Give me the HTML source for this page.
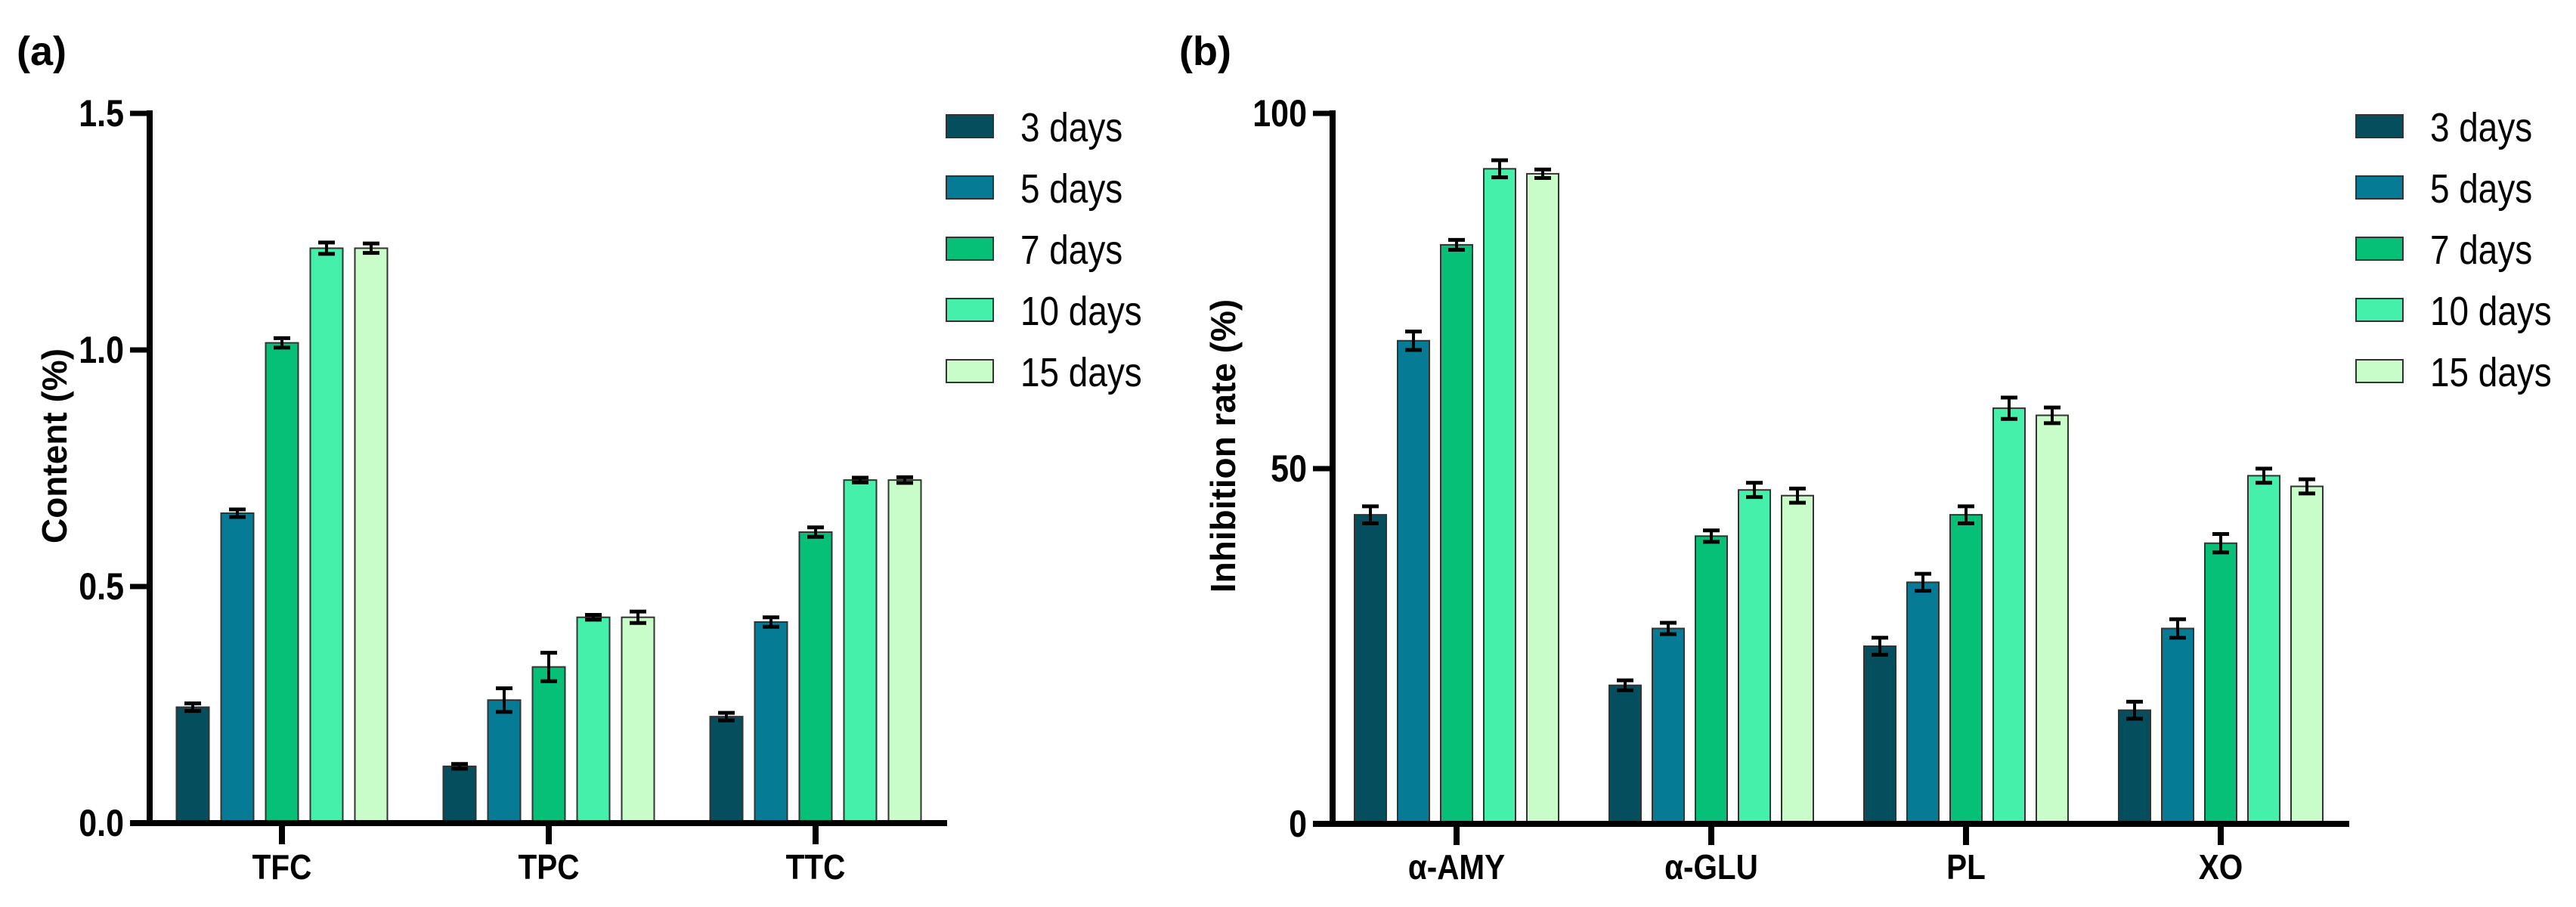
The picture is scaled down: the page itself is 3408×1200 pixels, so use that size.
<!DOCTYPE html>
<html><head><meta charset="utf-8">
<style>
html,body{margin:0;padding:0;background:#fff;}
svg{display:block;font-family:"Liberation Sans",Arial,sans-serif;}
</style></head>
<body>
<svg id="fig" width="3408" height="1200" viewBox="0 0 3408 1200" xmlns="http://www.w3.org/2000/svg">
<text x="22" y="86" font-size="54" font-weight="bold">(a)</text>
<text x="1560" y="86" font-size="54" font-weight="bold">(b)</text>
<text transform="translate(88,590) rotate(-90)" text-anchor="middle" font-size="46" font-weight="bold">Content (%)</text>
<text transform="translate(1634,590) rotate(-90)" text-anchor="middle" font-size="46" font-weight="bold">Inhibition rate (%)</text>
<g id="pa"></g>
<g id="pb"></g>
</svg>
<script>
const seriesNames = ["3 days","5 days","7 days","10 days","15 days"];
const colors = ["#044e5e","#067b96","#06c078","#44f0aa","#c8fcc8"];
const catsA = ["TFC","TPC","TTC"];
const a3 = [0.245,0.12,0.225];
const a5 = [0.655,0.26,0.425];
const a7 = [1.015,0.33,0.615];
const a10 = [1.215,0.435,0.725];
const a15 = [1.215,0.435,0.725];
const errA3 = [0.008,0.005,0.008];
const errA5 = [0.008,0.025,0.01];
const errA7 = [0.01,0.03,0.01];
const errA10 = [0.012,0.005,0.005];
const errA15 = [0.01,0.012,0.006];
const ticksA = [0,0.5,1.0,1.5];
const tickLabelsA = ["0.0","0.5","1.0","1.5"];
const catsB = ["α-AMY","α-GLU","PL","XO"];
const b3 = [43.5,19.5,25,16];
const b5 = [68,27.5,34,27.5];
const b7 = [81.5,40.5,43.5,39.5];
const b10 = [92.2,47,58.5,49];
const b15 = [91.5,46.2,57.5,47.5];
const errB3 = [1.2,0.7,1.2,1.2];
const errB5 = [1.3,0.8,1.2,1.3];
const errB7 = [0.7,0.8,1.2,1.3];
const errB10 = [1.2,1.0,1.5,1.0];
const errB15 = [0.6,1.0,1.1,1.0];
const ticksB = [0,50,100];
const tickLabelsB = ["0","50","100"];

const NS="http://www.w3.org/2000/svg";
function mk(parent,tag,attrs){const e=document.createElementNS(NS,tag);for(const k in attrs)e.setAttribute(k,attrs[k]);parent.appendChild(e);return e;}

function drawChart(g,cfg){
  const {x0,x1,y0,y1,vmax,cats,series,errs,ticks,tickLabels,groupStart,groupStep,legX,pfx}=cfg;
  const yScale=v=>y0-(v/vmax)*(y0-y1);
  const pitch=cfg.pitch, bw=cfg.bw;
  const xCat=i=>groupStart+i*groupStep;
  for(let s=0;s<series.length;s++){
    for(let i=0;i<cats.length;i++){
      const cx=xCat(i)+(s-2)*pitch;
      const v=series[s][i], e=errs[s][i];
      const yt=yScale(v);
      const r=mk(g,'rect',{x:cx-bw/2,y:yt,width:bw,height:y0-yt,fill:colors[s],stroke:'#333',"stroke-width":2});
      
      
      const eg=mk(g,'g',{});
      
      
      const yu=yScale(v+e), yd=yScale(v-e);
      mk(eg,'line',{x1:cx,x2:cx,y1:yu,y2:yd,stroke:'#000',"stroke-width":4});
      mk(eg,'line',{x1:cx-11,x2:cx+11,y1:yu,y2:yu,stroke:'#000',"stroke-width":5});
      mk(eg,'line',{x1:cx-11,x2:cx+11,y1:yd,y2:yd,stroke:'#000',"stroke-width":5});
    }
  }
  const ax=mk(g,'g',{});
  
  
  mk(ax,'line',{x1:x0,x2:x0,y1:y1-4,y2:y0+4,stroke:'#000',"stroke-width":8});
  mk(ax,'line',{x1:x0-26,x2:x1,y1:y0,y2:y0,stroke:'#000',"stroke-width":8});
  ticks.forEach((t,k)=>{
    const y=yScale(t);
    mk(ax,'line',{x1:x0-26,x2:x0,y1:y,y2:y,stroke:'#000',"stroke-width":7});
    const tl=mk(g,'text',{x:x0-34,y:y+17,"text-anchor":"end","font-size":50,"font-weight":"bold",transform:`translate(${(x0-34)*0.14},0) scale(0.86,1)`});
    tl.textContent=tickLabels[k];
    
    
  });
  cats.forEach((c,i)=>{
    const x=xCat(i);
    mk(ax,'line',{x1:x,x2:x,y1:y0,y2:y0+28,stroke:'#000',"stroke-width":8});
    const ct=mk(g,'text',{x:x,y:1163,"text-anchor":"middle","font-size":46,"font-weight":"bold",transform:`translate(${x*0.12},0) scale(0.88,1)`});
    ct.textContent=c;
    
    
  });
  const lg=mk(g,'g',{});
  
  
  seriesNames.forEach((n,s)=>{
    const y=152+s*81;
    const le=mk(lg,'g',{});
    
    
    mk(le,'rect',{x:legX,y:y,width:62,height:30,fill:colors[s],stroke:'#333',"stroke-width":2});
    const tx=legX+98;
    const t=mk(le,'text',{x:tx,y:y+35,"font-size":54,transform:`translate(${tx*0.15},0) scale(0.85,1)`});
    t.textContent=n;
  });
}
drawChart(document.getElementById('pa'),{x0:198,x1:1253,y0:1089,y1:150,vmax:1.5,cats:catsA,
  series:[a3,a5,a7,a10,a15],errs:[errA3,errA5,errA7,errA10,errA15],ticks:ticksA,tickLabels:tickLabelsA,
  groupStart:373,groupStep:353,pitch:59,bw:43,legX:1252,pfx:'a'});
drawChart(document.getElementById('pb'),{x0:1763,x1:3108,y0:1090,y1:150,vmax:100,cats:catsB,
  series:[b3,b5,b7,b10,b15],errs:[errB3,errB5,errB7,errB10,errB15],ticks:ticksB,tickLabels:tickLabelsB,
  groupStart:1927,groupStep:337,pitch:57,bw:42,legX:3117,pfx:'b'});
</script>
</body></html>
